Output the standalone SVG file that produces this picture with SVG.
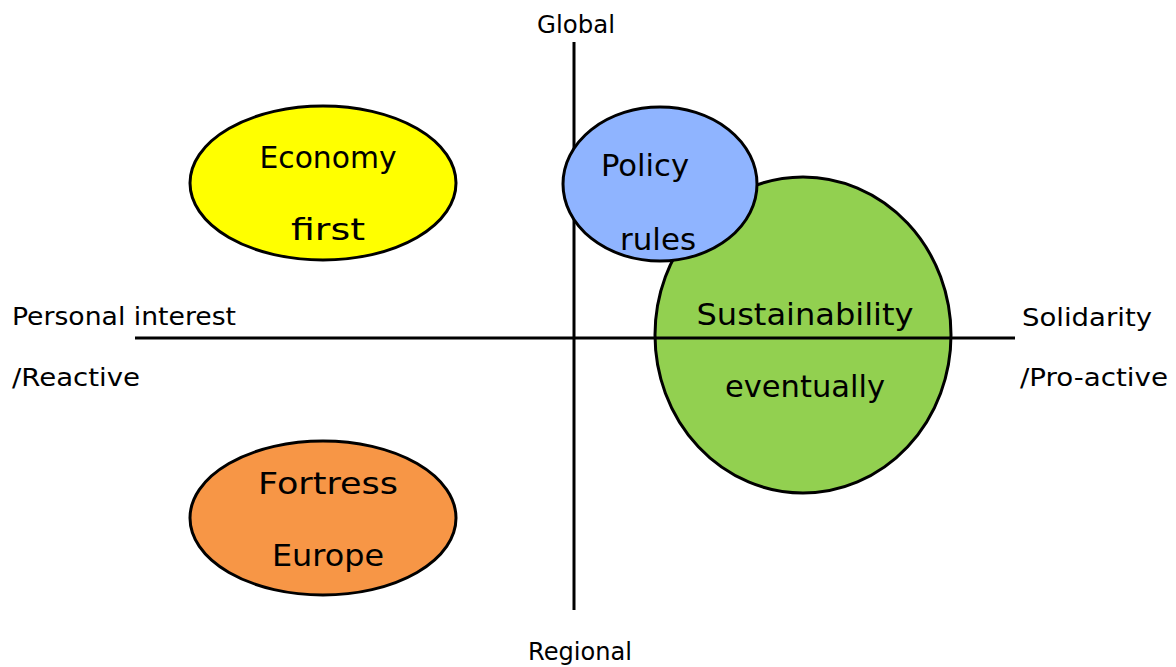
<svg xmlns="http://www.w3.org/2000/svg" width="1176" height="667" viewBox="0 0 1176 667">
<style>
.node{stroke:#000;stroke-width:3}
.axis{stroke:#000;stroke-width:3;fill:none}
.lbl{font-family:"Comic Sans MS","DejaVu Sans",sans-serif;font-size:24px;fill:#000}
.nt{font-family:"Comic Sans MS","DejaVu Sans",sans-serif;font-size:31px;fill:#000;text-anchor:middle}
</style>
<rect width="1176" height="667" fill="#fff"/>
<g id="connectors">
<line class="axis" x1="574" y1="42" x2="574" y2="610"/>
</g>
<g id="sustainability">
<ellipse class="node" cx="803" cy="335" rx="148" ry="158" fill="#92D050"/>
</g>
<g id="axis-h">
<line class="axis" x1="135" y1="338" x2="1015" y2="338"/>
</g>
<g id="sustainability-text">
<text class="nt" x="805" y="325" textLength="217" lengthAdjust="spacingAndGlyphs">Sustainability</text>
<text class="nt" x="805" y="397" textLength="160" lengthAdjust="spacingAndGlyphs">eventually</text>
</g>
<g id="policy">
<ellipse class="node" cx="660" cy="184" rx="97" ry="77" fill="#8FB4FF"/>
<text class="nt" x="645" y="176" textLength="88" lengthAdjust="spacingAndGlyphs">Policy</text>
<text class="nt" x="658" y="250" textLength="76" lengthAdjust="spacingAndGlyphs">rules</text>
</g>
<g id="economy">
<ellipse class="node" cx="323" cy="183" rx="133" ry="77" fill="#FFFF00"/>
<text class="nt" x="328" y="168" textLength="137" lengthAdjust="spacingAndGlyphs">Economy</text>
<text class="nt" x="328" y="240" textLength="74" lengthAdjust="spacingAndGlyphs">first</text>
</g>
<g id="fortress">
<ellipse class="node" cx="323" cy="518" rx="133" ry="77" fill="#F79646"/>
<text class="nt" x="328" y="494" textLength="140" lengthAdjust="spacingAndGlyphs">Fortress</text>
<text class="nt" x="328" y="566" textLength="112" lengthAdjust="spacingAndGlyphs">Europe</text>
</g>
<g id="labels">
<text class="lbl" x="576" y="33" text-anchor="middle" textLength="78" lengthAdjust="spacingAndGlyphs">Global</text>
<text class="lbl" x="580" y="660" text-anchor="middle" textLength="104" lengthAdjust="spacingAndGlyphs">Regional</text>
<text class="lbl" x="12" y="325" textLength="224" lengthAdjust="spacingAndGlyphs">Personal interest</text>
<text class="lbl" x="12" y="386" textLength="128" lengthAdjust="spacingAndGlyphs">/Reactive</text>
<text class="lbl" x="1022" y="326" textLength="130" lengthAdjust="spacingAndGlyphs">Solidarity</text>
<text class="lbl" x="1020" y="386" textLength="148" lengthAdjust="spacingAndGlyphs">/Pro-active</text>
</g>
</svg>
